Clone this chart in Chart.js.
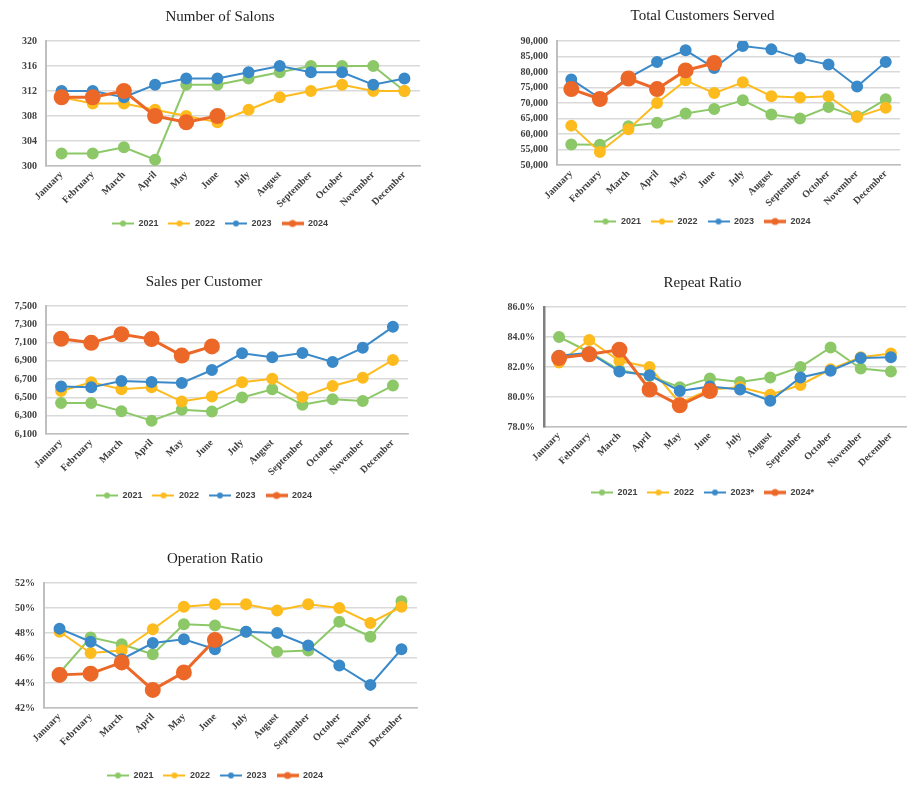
<!DOCTYPE html>
<html><head><meta charset="utf-8">
<script src="https://cdn.jsdelivr.net/npm/chart.js@4"></script>
<style>
html,body{margin:0;padding:0;background:#fff;width:917px;height:792px;overflow:hidden}
canvas{position:absolute}
</style></head><body>
<canvas id="c1" width="440" height="238" style="left:0px;top:0px"></canvas>
<canvas id="c2" width="457" height="236" style="left:460px;top:0px"></canvas>
<canvas id="c3" width="430" height="250" style="left:0px;top:260px"></canvas>
<canvas id="c4" width="457" height="247" style="left:460px;top:260px"></canvas>
<canvas id="c5" width="430" height="260" style="left:0px;top:530px"></canvas>
<script>
// ---- data ----
const months = ['January','February','March','April','May','June','July','August','September','October','November','December'];
const yearLabels = ['2021','2022','2023','2024'];
const repeatYearLabels = ['2021','2022','2023*','2024*'];

const salons2021 = [302,302,303,301,313,313,314,315,316,316,316,312];
const salons2022 = [311,310,310,309,308,307,309,311,312,313,312,312];
const salons2023 = [312,312,311,313,314,314,315,316,315,315,313,314];
const salons2024 = [311,311,312,308,307,308];
const salonsTicks = [300,304,308,312,316,320];

const customers2021 = [56600,56500,62500,63600,66600,68100,70900,66300,65000,68700,65700,71200];
const customers2022 = [62700,54200,61500,70000,77300,73200,76700,72200,71800,72200,65500,68500];
const customers2023 = [77600,71500,78100,83200,87000,81300,88400,87300,84400,82400,75300,83200];
const customers2024 = [74500,71300,77900,74500,80500,82900];
const customersTicks = [50000,55000,60000,65000,70000,75000,80000,85000,90000];

const spc2021 = [6440,6440,6350,6245,6365,6345,6500,6590,6420,6480,6460,6630];
const spc2022 = [6570,6665,6590,6610,6455,6510,6665,6705,6505,6625,6715,6910];
const spc2023 = [6620,6612,6680,6668,6658,6800,6982,6940,6985,6888,7043,7272];
const spc2024 = [7142,7097,7192,7138,6958,7058];
const spcTicks = [6100,6300,6500,6700,6900,7100,7300,7500];

const repeat2021 = [84.0,83.0,81.8,81.4,80.65,81.24,81.0,81.3,82.0,83.3,81.9,81.7];
const repeat2022 = [82.3,83.8,82.4,82.0,79.6,80.5,80.65,80.15,80.8,81.85,82.65,82.9];
const repeat2023 = [82.75,82.95,81.7,81.45,80.4,80.7,80.5,79.75,81.3,81.75,82.6,82.65];
const repeat2024 = [82.6,82.85,83.15,80.5,79.45,80.4];
const repeatTicks = [78,80,82,84,86];

const oper2021 = [44.8,47.65,47.1,46.3,48.7,48.6,48.1,46.5,46.6,48.9,47.7,50.55];
const oper2022 = [48.1,46.4,46.6,48.3,50.1,50.3,50.3,49.8,50.3,50.0,48.8,50.1];
const oper2023 = [48.35,47.3,45.9,47.2,47.5,46.7,48.1,48.0,47.0,45.4,43.85,46.7];
const oper2024 = [44.65,44.75,45.65,43.45,44.85,47.45];
const operTicks = [42,44,46,48,50,52];

// ---- styling ----
const colors = ['#8DC868','#FDBB1E','#3A89C9','#EC6828'];
const lineWidths = [2,2,2,3];
const radii = [5,5,5,6.5];
const orders = [3,2,1,0];

function legendIcon(color, lw, r){
  const c = document.createElement('canvas');
  c.width = 22; c.height = 10;
  const g = c.getContext('2d');
  g.strokeStyle = color; g.lineWidth = lw;
  g.beginPath(); g.moveTo(0,5); g.lineTo(22,5); g.stroke();
  g.fillStyle = color;
  g.beginPath(); g.arc(11,5,r,0,Math.PI*2); g.fill();
  return c;
}
const icons = colors.map((c,i)=>legendIcon(c, i===3?3.5:2, i===3?3.5:3));

function makeDatasets(labels, series){
  return series.map((d,i)=>({
    label: labels[i],
    data: d,
    borderColor: colors[i],
    backgroundColor: colors[i],
    pointBackgroundColor: colors[i],
    pointBorderColor: colors[i],
    borderWidth: lineWidths[i],
    pointRadius: radii[i],
    pointHoverRadius: radii[i],
    order: orders[i],
    tension: 0,
    fill: false
  }));
}

function makeChart(id, cfg){
  const tickVals = cfg.ticks;
  new Chart(document.getElementById(id), {
    type: 'line',
    data: { labels: months, datasets: makeDatasets(cfg.labels, cfg.series) },
    options: {
      responsive: false,
      animation: false,
      devicePixelRatio: 1,
      layout: { padding: { left: cfg.pL, right: cfg.pR, top: 0, bottom: 0 } },
      plugins: {
        title: {
          display: true, text: cfg.title, color: '#1e1e1e',
          font: { family: "'Liberation Serif','Times New Roman',serif", size: 15, weight: 'normal', lineHeight: 1.2 },
          padding: { top: cfg.pt, bottom: cfg.pb }
        },
        legend: {
          display: true, position: 'bottom',
          labels: {
            usePointStyle: true, pointStyleWidth: 22, padding: 10,
            color: '#404040',
            font: { family: "'Liberation Sans',Arial,sans-serif", size: 9, weight: 'bold' },
            sort: (a, b) => a.datasetIndex - b.datasetIndex,
            generateLabels: (chart) => {
              const items = Chart.defaults.plugins.legend.labels.generateLabels(chart);
              items.forEach((it) => { it.pointStyle = icons[it.datasetIndex]; });
              return items;
            }
          }
        },
        tooltip: { enabled: false }
      },
      scales: {
        x: {
          offset: true,
          grid: { display: false, drawTicks: false },
          border: { display: true, color: '#BFBFBF', width: 1.5 },
          ticks: {
            minRotation: 45, maxRotation: 45, autoSkip: false, padding: 3,
            color: '#404040',
            font: { family: "'Liberation Serif','Times New Roman',serif", size: 10, weight: 'bold' }
          },
          afterFit: (s) => { s.height = cfg.xh; }
        },
        y: {
          min: tickVals[0], max: tickVals[tickVals.length-1],
          afterBuildTicks: (s) => { s.ticks = tickVals.map(v => ({ value: v })); },
          grid: { color: '#D9D9D9', lineWidth: 1.5, drawTicks: false },
          border: { display: true, color: cfg.axisColor || '#BFBFBF', width: cfg.axisWidth || 2 },
          ticks: {
            padding: 9, color: '#404040',
            font: { family: "'Liberation Serif','Times New Roman',serif", size: 10, weight: 'bold' },
            callback: cfg.fmt
          },
          afterFit: (s) => { s.width = cfg.yW; }
        }
      }
    }
  });
}

const commaFmt = (v) => v.toLocaleString('en-US');

makeChart('c1', { title: 'Number of Salons', labels: yearLabels,
  series: [salons2021, salons2022, salons2023, salons2024], ticks: salonsTicks,
  pL: 20, pR: 20, yW: 26, pt: 8, pb: 15, xh: 43, fmt: (v) => String(v) });

makeChart('c2', { title: 'Total Customers Served', labels: yearLabels,
  series: [customers2021, customers2022, customers2023, customers2024], ticks: customersTicks,
  pL: 45, pR: 17, yW: 52, pt: 7, pb: 16, xh: 42, fmt: commaFmt });

makeChart('c3', { title: 'Sales per Customer', labels: yearLabels,
  series: [spc2021, spc2022, spc2023, spc2024], ticks: spcTicks,
  pL: 0, pR: 22, yW: 46, pt: 13, pb: 15, xh: 47, fmt: commaFmt });

makeChart('c4', { title: 'Repeat Ratio', labels: repeatYearLabels,
  series: [repeat2021, repeat2022, repeat2023, repeat2024], ticks: repeatTicks,
  pL: 39, pR: 11, yW: 45, pt: 14, pb: 15, xh: 51, axisColor: '#7F7F7F', axisWidth: 2.5,
  fmt: (v) => v.toFixed(1) + '%' });

makeChart('c5', { title: 'Operation Ratio', labels: yearLabels,
  series: [oper2021, oper2022, oper2023, oper2024], ticks: operTicks,
  pL: 13, pR: 13, yW: 31, pt: 20, pb: 15, xh: 53, fmt: (v) => v + '%' });
</script>
</body></html>
